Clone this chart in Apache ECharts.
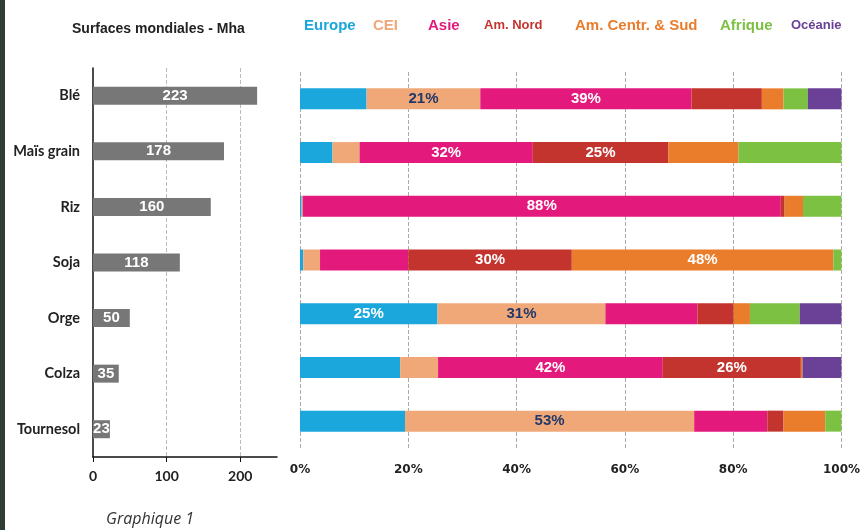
<!DOCTYPE html>
<html>
<head>
<meta charset="utf-8">
<script src="https://cdn.jsdelivr.net/npm/echarts@6/dist/echarts.min.js"></script>
<style>
  html, body { margin: 0; padding: 0; background: #fff; }
  #chart { width: 863px; height: 530px; box-sizing: border-box; border-left: 5px solid #2f3e34; }
</style>
</head>
<body>
<div id="chart"></div>
<script>
// cultures, surfaces mondiales (Mha)
const crops = ["Blé", "Maïs grain", "Riz", "Soja", "Orge", "Colza", "Tournesol"];
const surfaces = [223, 178, 160, 118, 50, 35, 23];

// part de chaque région (%)
const europe = [12.3, 6, 0.3, 0.6, 25.4, 18.5, 19.4];
const cei = [21, 5, 0.2, 3.1, 31, 7, 53.4];
const asie = [39, 32, 88.3, 16.3, 17, 41.5, 13.5];
const amNord = [13, 25, 0.7, 30.2, 6.7, 25.5, 3];
const amCentrSud = [4, 13, 3.4, 48.3, 3, 0.3, 7.7];
const afrique = [4.5, 19, 7.1, 1.5, 9.2, 0, 3];
const oceanie = [6.2, 0, 0, 0, 7.7, 7.2, 0];

const surfaceTicks = [0, 100, 200];
const shareTicks = [0, 20, 40, 60, 80, 100];

const regions = [
  { name: "Europe", data: europe, color: "#1ba6dc", size: 15, left: 294, label: "#fff" },
  { name: "CEI", data: cei, color: "#f0a878", size: 15, left: 363, label: "#22386a" },
  { name: "Asie", data: asie, color: "#e4197c", size: 15, left: 418, label: "#fff" },
  { name: "Am. Nord", data: amNord, color: "#c4342e", size: 13, left: 474, label: "#fff" },
  { name: "Am. Centr. & Sud", data: amCentrSud, color: "#ea7d2c", size: 15, left: 565, label: "#fff" },
  { name: "Afrique", data: afrique, color: "#7cc142", size: 15, left: 710, label: "#fff" },
  { name: "Océanie", data: oceanie, color: "#6a4196", size: 13, left: 781, label: "#fff" },
];

const chart = echarts.init(document.getElementById("chart"));

chart.setOption({
  animation: false,
  title: [
    {
      text: "Surfaces mondiales - Mha",
      left: 62, top: 17,
      textStyle: { fontFamily: "Liberation Sans", fontSize: 14, fontWeight: "bold", color: "#222" },
    },
    {
      text: "Graphique 1",
      left: 96, top: 506,
      textStyle: { fontFamily: "Open Sans", fontSize: 16, fontStyle: "italic", fontWeight: "normal", color: "#333" },
    },
  ],
  legend: regions.map((r) => ({
    data: [{ name: r.name, textStyle: { color: r.color, fontSize: r.size, fontWeight: "bold", fontFamily: "Liberation Sans" } }],
    icon: "none",
    itemWidth: 0,
    itemHeight: 14,
    padding: 0,
    left: r.left,
    top: 18,
  })),
  grid: [
    { left: 88, width: 184, top: 68, height: 389 },
    { left: 295, width: 543, top: 72, height: 376 },
  ],
  xAxis: [
    {
      gridIndex: 0,
      type: "value",
      min: 0, max: 250, interval: 100,
      axisLine: { show: true, lineStyle: { color: "#111", width: 1.5 } },
      axisTick: { show: true, length: 5, customValues: surfaceTicks, lineStyle: { color: "#111" } },
      axisLabel: {
        color: "#222", fontFamily: "Lato", fontWeight: "bold", fontSize: 14, margin: 12,
        customValues: surfaceTicks,
      },
      splitLine: { show: true, lineStyle: { color: ["transparent", "#bbb", "#bbb", "transparent"], type: "dashed" } },
    },
    {
      gridIndex: 1,
      type: "value",
      min: 0, max: 100, interval: 20,
      axisLine: { show: false },
      axisTick: { show: false },
      axisLabel: {
        color: "#222", fontFamily: "DejaVu Sans", fontWeight: "bold", fontSize: 12, margin: 16,
        formatter: (v) => (shareTicks.includes(v) ? v + "%" : ""),
      },
      splitLine: { show: true, lineStyle: { color: "#aaa", type: "dashed" } },
    },
  ],
  yAxis: [
    {
      gridIndex: 0,
      type: "category",
      data: crops,
      inverse: true,
      axisLine: { show: true, lineStyle: { color: "#111", width: 1.5 } },
      axisTick: { show: false },
      axisLabel: { color: "#222", fontFamily: "Lato", fontWeight: "bold", fontSize: 14.5, margin: 13 },
    },
    {
      gridIndex: 1,
      type: "category",
      data: crops,
      inverse: true,
      axisLine: { show: false },
      axisTick: { show: false },
      axisLabel: { show: false },
    },
  ],
  series: [
    {
      name: "Surfaces",
      type: "bar",
      xAxisIndex: 0,
      yAxisIndex: 0,
      data: surfaces,
      barWidth: 18,
      itemStyle: { color: "#777" },
      label: {
        show: true, position: "inside", color: "#fff",
        fontFamily: "Liberation Sans", fontWeight: "bold", fontSize: 15,
      },
    },
  ].concat(
    regions.map((r) => ({
      name: r.name,
      type: "bar",
      stack: "parts",
      xAxisIndex: 1,
      yAxisIndex: 1,
      data: r.data,
      barWidth: 21,
      itemStyle: { color: r.color },
      label: {
        show: true, position: "inside", color: r.label,
        fontFamily: "Liberation Sans", fontWeight: "bold", fontSize: 15,
        formatter: (p) => (p.value >= 20 ? Math.round(p.value) + "%" : ""),
      },
    }))
  ),
});
</script>
</body>
</html>
